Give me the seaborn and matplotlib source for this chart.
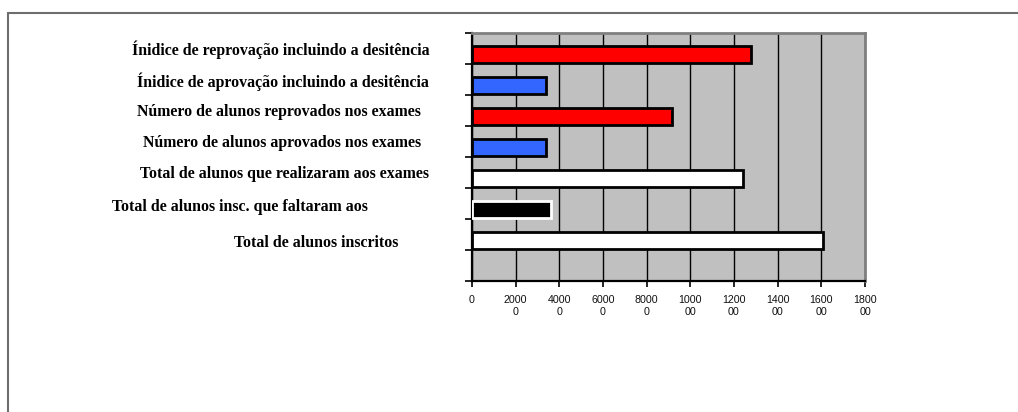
import matplotlib
matplotlib.use("Agg")
import matplotlib.pyplot as plt
import matplotlib.transforms as mtransforms
from matplotlib.patches import Rectangle
import numpy as np
import pandas as pd
import seaborn as sns

# Data: student exam statistics
categories = [
    "Ínidice de reprovação incluindo a desitência",
    "Ínidice de aprovação incluindo a desitência",
    "Número de alunos reprovados nos exames",
    "Número de alunos aprovados nos exames",
    "Total de alunos que realizaram aos exames",
    "Total de alunos insc. que faltaram aos",
    "Total de alunos inscritos",
]
values = [128000, 33700, 91400, 33700, 124300, 36000, 160600]
bar_colors = ["#FF0000", "#3366FF", "#FF0000", "#3366FF", "#FFFFFF", "#000000", "#FFFFFF"]
x_ticks = [0, 20000, 40000, 60000, 80000, 100000, 120000, 140000, 160000, 180000]
x_tick_labels = ["0", "2000\n0", "4000\n0", "6000\n0", "8000\n0",
                 "1000\n00", "1200\n00", "1400\n00", "1600\n00", "1800\n00"]

df = pd.DataFrame({"categoria": categories, "valor": values})

sns.set_style("white", {"axes.facecolor": "#C0C0C0"})

fig = plt.figure(figsize=(10.18, 4.12), dpi=100)
ax = fig.add_axes([472 / 1018, 1 - 281 / 412, (865 - 472) / 1018, (281 - 33) / 412])

sns.barplot(data=df, x="valor", y="categoria", hue="categoria",
            palette=bar_colors, orient="h", width=0.55, legend=False,
            edgecolor="black", linewidth=2.0, saturation=1, ax=ax, zorder=3)

# the black bar carries a white outline
for patch, col in zip(ax.patches, bar_colors):
    if col == "#000000":
        patch.set_edgecolor("white")

ax.set_xlim(0, 180000)
ax.set_ylim(len(categories) + 0.31, -0.69)

# vertical gridlines
ax.set_xticks(x_ticks)
ax.set_xticklabels(x_tick_labels, fontsize=7.7, family="Liberation Sans",
                   linespacing=1.25, va="top", color="#111111")
ax.xaxis.grid(True, color="black", linewidth=1.0, zorder=1)
ax.set_axisbelow(True)
ax.tick_params(axis="x", direction="out", length=4, width=1.2, color="black",
               pad=6, bottom=True)

# category boundary ticks on the left axis
boundaries = np.arange(-1, len(categories) + 1) + 0.31
ax.set_yticks(boundaries)
ax.set_yticklabels([])
ax.tick_params(axis="y", direction="out", length=5, width=1.2, color="black", left=True)
ax.set_xlabel("")
ax.set_ylabel("")

for side in ["left", "bottom"]:
    ax.spines[side].set_color("black")
    ax.spines[side].set_linewidth(1.6)
for side in ["top", "right"]:
    ax.spines[side].set_visible(True)
    ax.spines[side].set_color("#808080")
    ax.spines[side].set_linewidth(2.0)

# category labels to the left of the plot area
label_x = [281, 283, 279, 282, 284, 240, 316]
label_dy = [-0.15, -0.11, -0.15, -0.15, -0.15, -0.08, 0.08]
trans = mtransforms.blended_transform_factory(fig.transFigure, ax.transData)
for i, (name, lx, dy) in enumerate(zip(categories, label_x, label_dy)):
    fig.text(lx / 1018, i + dy, name, transform=trans, ha="center", va="center",
             fontsize=11.4, fontweight="bold", family="Liberation Serif", color="black")

# outer frame
frame = Rectangle((8 / 1018, -0.1), 1.2, 1 - 13 / 412 + 0.1, transform=fig.transFigure,
                  fill=False, edgecolor="#6E6E6E", linewidth=1.5, clip_on=False)
fig.patches.append(frame)

fig.savefig("out.png", dpi=100, facecolor="white")
